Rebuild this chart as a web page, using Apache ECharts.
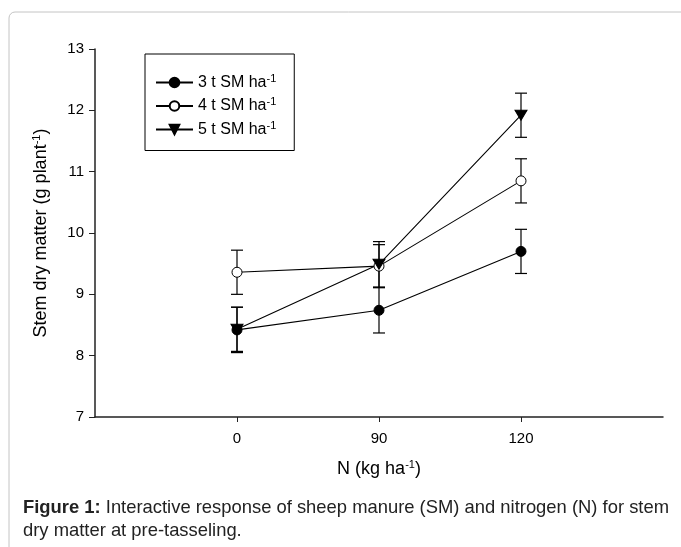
<!DOCTYPE html>
<html>
<head>
<meta charset="utf-8">
<script src="https://cdn.jsdelivr.net/npm/echarts@6/dist/echarts.min.js"></script>
<style>
  html, body { margin: 0; padding: 0; background: #fff; }
  #chart { width: 681px; height: 547px; }
</style>
</head>
<body>
<div id="chart"></div>
<script>
// N rates (kg ha-1) on the x axis
const nLevels = ['0', '90', '120'];
const yTicks = [7, 8, 9, 10, 11, 12, 13];

// stem dry matter means (g plant-1)
const sm3 = [8.42, 8.74, 9.70];
const sm4 = [9.36, 9.46, 10.85];
const sm5 = [8.43, 9.49, 11.92];

// error bar half-widths
const sm3Err = [0.37, 0.37, 0.36];
const sm4Err = [0.36, 0.35, 0.36];
const sm5Err = [0.36, 0.37, 0.36];

const FONT = '"Liberation Sans", Arial, sans-serif';
const chart = echarts.init(document.getElementById('chart'));

const toPoints = (vals) => vals.map((v, i) => [i, v]);
const toBars = (vals, errs) => vals.map((v, i) => [i, v - errs[i], v + errs[i]]);

/**
 * vertical error bar with caps
 */
function renderErrorBar(params, api) {
  const x = api.value(0);
  const lo = api.coord([x, api.value(1)]);
  const hi = api.coord([x, api.value(2)]);
  const half = 6;
  const style = { stroke: '#000', lineWidth: 1.2 };
  return {
    type: 'group',
    children: [
      { type: 'line', shape: { x1: lo[0], y1: lo[1], x2: hi[0], y2: hi[1] }, style },
      { type: 'line', shape: { x1: hi[0] - half, y1: hi[1], x2: hi[0] + half, y2: hi[1] }, style },
      { type: 'line', shape: { x1: lo[0] - half, y1: lo[1], x2: lo[0] + half, y2: lo[1] }, style }
    ]
  };
}

const supRich = (size, sup, lift) => ({
  a: { fontFamily: FONT, fontSize: size, color: '#000' },
  s: { fontFamily: FONT, fontSize: sup, color: '#000', padding: [0, 0, lift, 0] }
});

function lineSeries(name, vals, symbol, fill, size, rotate) {
  return {
    name,
    type: 'line',
    data: toPoints(vals),
    symbol,
    symbolSize: size,
    symbolRotate: rotate || 0,
    showAllSymbol: true,
    z: 5,
    lineStyle: { color: '#000', width: 1.1 },
    itemStyle: { color: fill, borderColor: '#000', borderWidth: 1 },
    emphasis: { disabled: true }
  };
}

function errSeries(vals, errs) {
  return {
    type: 'custom',
    renderItem: renderErrorBar,
    data: toBars(vals, errs),
    z: 3,
    silent: true
  };
}

const option = {
  backgroundColor: '#fff',
  animation: false,
  grid: { left: 95, right: 18, top: 49, bottom: 130, containLabel: false },
  legend: {
    data: ['3 t SM ha', '4 t SM ha', '5 t SM ha'],
    orient: 'vertical',
    left: 145,
    top: 54,
    itemWidth: 37,
    itemHeight: 12,
    itemGap: 6,
    padding: [19, 18, 13, 10],
    borderColor: '#000',
    borderWidth: 1,
    selectedMode: false,
    formatter: (name) => '{a|' + name + '}{s|-1}',
    textStyle: { rich: supRich(16, 11, 8) }
  },
  xAxis: {
    type: 'value',
    min: -1,
    max: 3,
    interval: 1,
    name: '{a|N (kg ha}{s|-1}{a|)}',
    nameLocation: 'middle',
    nameGap: 42,
    nameTextStyle: { rich: supRich(18, 11, 10) },
    splitLine: { show: false },
    axisLine: { onZero: false, lineStyle: { color: '#222', width: 1.5 } },
    axisTick: { customValues: [0, 1, 2], length: 5, lineStyle: { color: '#222', width: 1 } },
    axisLabel: {
      customValues: [0, 1, 2],
      formatter: (v) => nLevels[v] || '',
      margin: 14,
      fontFamily: FONT,
      fontSize: 15,
      color: '#000'
    }
  },
  yAxis: {
    type: 'value',
    min: yTicks[0],
    max: yTicks[yTicks.length - 1],
    interval: 1,
    name: '{a|Stem dry matter (g plant}{s|-1}{a|)}',
    nameLocation: 'middle',
    nameGap: 43,
    nameTextStyle: { rich: supRich(18, 11, 10) },
    splitLine: { show: false },
    axisLine: { show: true, onZero: false, lineStyle: { color: '#222', width: 1.5 } },
    axisTick: { show: true, length: 6, lineStyle: { color: '#222', width: 1 } },
    axisLabel: { margin: 11, fontFamily: FONT, fontSize: 15, color: '#000' }
  },
  series: [
    errSeries(sm3, sm3Err),
    errSeries(sm4, sm4Err),
    errSeries(sm5, sm5Err),
    lineSeries('3 t SM ha', sm3, 'circle', '#000', 10),
    lineSeries('4 t SM ha', sm4, 'circle', '#fff', 10),
    lineSeries('5 t SM ha', sm5, 'triangle', '#000', [12, 10], 180)
  ],
  graphic: [
    {
      type: 'rect',
      shape: { x: 9, y: 12, width: 720, height: 600, r: 6 },
      style: { fill: 'none', stroke: '#c4c4c4', lineWidth: 1 },
      silent: true
    },
    {
      type: 'text',
      left: 23,
      top: 496,
      style: {
        text: '{b|Figure 1:} Interactive response of sheep manure (SM) and nitrogen (N) for stem\ndry matter at pre-tasseling.',
        fontFamily: FONT,
        fontSize: 18.4,
        lineHeight: 23,
        fill: '#222',
        rich: {
          b: { fontFamily: FONT, fontSize: 18.4, fontWeight: 'bold', fill: '#222' }
        }
      }
    }
  ]
};

chart.setOption(option);
</script>
</body>
</html>
